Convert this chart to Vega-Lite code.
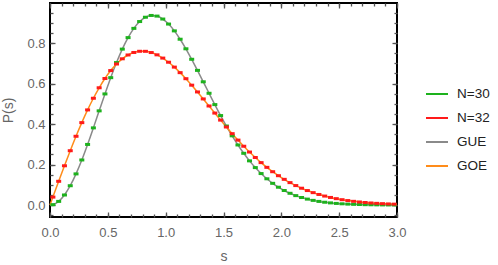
{
  "$schema": "https://vega.github.io/schema/vega-lite/v6.json",
  "width": 347,
  "height": 214,
  "autosize": {"type": "none"},
  "padding": {"left": 50, "top": 3, "right": 101, "bottom": 48},
  "background": "white",
  "config": {
    "view": {"stroke": "#000000", "strokeWidth": 2},
    "axis": {"domain": false, "grid": false, "zindex": 1, "labelFont": "Liberation Sans", "labelFontSize": 13, "labelColor": "#666666", "tickColor": "#555555", "tickWidth": 1.3, "titleFont": "Liberation Sans", "titleFontSize": 14, "titleFontWeight": "normal", "titleColor": "#666666", "labelFlush": false, "labelOverlap": false},
    "legend": {"labelFont": "Liberation Sans", "labelFontSize": 13.5, "labelColor": "#222222"}
  },
  "data": {"values": [
    {"s": 0, "GUE": 0, "GOE": 0},
    {"s": 0.025, "GUE": 0.0020, "GOE": 0.0393, "N30": 0.0020, "N32": 0.0393},
    {"s": 0.075, "GUE": 0.0181, "GOE": 0.1173, "N30": 0.0181, "N32": 0.1173},
    {"s": 0.125, "GUE": 0.0497, "GOE": 0.1940, "N30": 0.0497, "N32": 0.1940},
    {"s": 0.175, "GUE": 0.0955, "GOE": 0.2684, "N30": 0.0955, "N32": 0.2684},
    {"s": 0.225, "GUE": 0.1539, "GOE": 0.3397, "N30": 0.1539, "N32": 0.3397},
    {"s": 0.275, "GUE": 0.2227, "GOE": 0.4071, "N30": 0.2227, "N32": 0.4071},
    {"s": 0.325, "GUE": 0.2994, "GOE": 0.4699, "N30": 0.2994, "N32": 0.4699},
    {"s": 0.375, "GUE": 0.3812, "GOE": 0.5275, "N30": 0.3812, "N32": 0.5275},
    {"s": 0.425, "GUE": 0.4653, "GOE": 0.5793, "N30": 0.4653, "N32": 0.5793},
    {"s": 0.475, "GUE": 0.5489, "GOE": 0.6250, "N30": 0.5489, "N32": 0.6250},
    {"s": 0.525, "GUE": 0.6292, "GOE": 0.6642, "N30": 0.6292, "N32": 0.6642},
    {"s": 0.575, "GUE": 0.7037, "GOE": 0.6967, "N30": 0.7037, "N32": 0.6967},
    {"s": 0.625, "GUE": 0.7702, "GOE": 0.7224, "N30": 0.7702, "N32": 0.7224},
    {"s": 0.675, "GUE": 0.8270, "GOE": 0.7413, "N30": 0.8270, "N32": 0.7413},
    {"s": 0.725, "GUE": 0.8727, "GOE": 0.7537, "N30": 0.8727, "N32": 0.7537},
    {"s": 0.775, "GUE": 0.9064, "GOE": 0.7595, "N30": 0.9064, "N32": 0.7595},
    {"s": 0.825, "GUE": 0.9277, "GOE": 0.7593, "N30": 0.9277, "N32": 0.7593},
    {"s": 0.875, "GUE": 0.9365, "GOE": 0.7533, "N30": 0.9365, "N32": 0.7533},
    {"s": 0.925, "GUE": 0.9333, "GOE": 0.7420, "N30": 0.9333, "N32": 0.7420},
    {"s": 0.975, "GUE": 0.9188, "GOE": 0.7259, "N30": 0.9188, "N32": 0.7259},
    {"s": 1.025, "GUE": 0.8940, "GOE": 0.7055, "N30": 0.8940, "N32": 0.7055},
    {"s": 1.075, "GUE": 0.8603, "GOE": 0.6813, "N30": 0.8603, "N32": 0.6813},
    {"s": 1.125, "GUE": 0.8191, "GOE": 0.6540, "N30": 0.8191, "N32": 0.6540},
    {"s": 1.175, "GUE": 0.7718, "GOE": 0.6241, "N30": 0.7718, "N32": 0.6241},
    {"s": 1.225, "GUE": 0.7200, "GOE": 0.5921, "N30": 0.7200, "N32": 0.5921},
    {"s": 1.275, "GUE": 0.6652, "GOE": 0.5587, "N30": 0.6652, "N32": 0.5587},
    {"s": 1.325, "GUE": 0.6088, "GOE": 0.5242, "N30": 0.6088, "N32": 0.5242},
    {"s": 1.375, "GUE": 0.5521, "GOE": 0.4893, "N30": 0.5521, "N32": 0.4893},
    {"s": 1.425, "GUE": 0.4962, "GOE": 0.4543, "N30": 0.4962, "N32": 0.4543},
    {"s": 1.475, "GUE": 0.4420, "GOE": 0.4196, "N30": 0.4420, "N32": 0.4196},
    {"s": 1.525, "GUE": 0.3903, "GOE": 0.3856, "N30": 0.3903, "N32": 0.3856},
    {"s": 1.575, "GUE": 0.3419, "GOE": 0.3526, "N30": 0.3419, "N32": 0.3526},
    {"s": 1.625, "GUE": 0.2968, "GOE": 0.3208, "N30": 0.2968, "N32": 0.3208},
    {"s": 1.675, "GUE": 0.2556, "GOE": 0.2905, "N30": 0.2556, "N32": 0.2905},
    {"s": 1.725, "GUE": 0.2183, "GOE": 0.2618, "N30": 0.2183, "N32": 0.2618},
    {"s": 1.775, "GUE": 0.1850, "GOE": 0.2348, "N30": 0.1850, "N32": 0.2348},
    {"s": 1.825, "GUE": 0.1555, "GOE": 0.2096, "N30": 0.1555, "N32": 0.2096},
    {"s": 1.875, "GUE": 0.1297, "GOE": 0.1862, "N30": 0.1297, "N32": 0.1862},
    {"s": 1.925, "GUE": 0.1073, "GOE": 0.1647, "N30": 0.1073, "N32": 0.1647},
    {"s": 1.975, "GUE": 0.0881, "GOE": 0.1450, "N30": 0.0881, "N32": 0.1450},
    {"s": 2.025, "GUE": 0.0718, "GOE": 0.1270, "N30": 0.0718, "N32": 0.1270},
    {"s": 2.075, "GUE": 0.0581, "GOE": 0.1108, "N30": 0.0581, "N32": 0.1108},
    {"s": 2.125, "GUE": 0.0466, "GOE": 0.0962, "N30": 0.0466, "N32": 0.0962},
    {"s": 2.175, "GUE": 0.0372, "GOE": 0.0832, "N30": 0.0372, "N32": 0.0832},
    {"s": 2.225, "GUE": 0.0294, "GOE": 0.0716, "N30": 0.0294, "N32": 0.0716},
    {"s": 2.275, "GUE": 0.0231, "GOE": 0.0613, "N30": 0.0231, "N32": 0.0613},
    {"s": 2.325, "GUE": 0.0180, "GOE": 0.0523, "N30": 0.0180, "N32": 0.0523},
    {"s": 2.375, "GUE": 0.0139, "GOE": 0.0444, "N30": 0.0139, "N32": 0.0444},
    {"s": 2.425, "GUE": 0.0107, "GOE": 0.0376, "N30": 0.0107, "N32": 0.0376},
    {"s": 2.475, "GUE": 0.0081, "GOE": 0.0316, "N30": 0.0081, "N32": 0.0316},
    {"s": 2.525, "GUE": 0.0062, "GOE": 0.0265, "N30": 0.0062, "N32": 0.0265},
    {"s": 2.575, "GUE": 0.0046, "GOE": 0.0221, "N30": 0.0046, "N32": 0.0221},
    {"s": 2.625, "GUE": 0.0035, "GOE": 0.0184, "N30": 0.0035, "N32": 0.0184},
    {"s": 2.675, "GUE": 0.0026, "GOE": 0.0152, "N30": 0.0026, "N32": 0.0152},
    {"s": 2.725, "GUE": 0.0019, "GOE": 0.0126, "N30": 0.0019, "N32": 0.0126},
    {"s": 2.775, "GUE": 0.0014, "GOE": 0.0103, "N30": 0.0014, "N32": 0.0103},
    {"s": 2.825, "GUE": 0.0010, "GOE": 0.0084, "N30": 0.0010, "N32": 0.0084},
    {"s": 2.875, "GUE": 0.0007, "GOE": 0.0069, "N30": 0.0007, "N32": 0.0069},
    {"s": 2.925, "GUE": 0.0005, "GOE": 0.0056, "N30": 0.0005, "N32": 0.0056},
    {"s": 2.975, "GUE": 0.0004, "GOE": 0.0045, "N30": 0.0004, "N32": 0.0045},
    {"s": 3.0, "GUE": 0.0003, "GOE": 0.0040}
  ]},
  "layer": [
    {
      "transform": [{"fold": ["GUE", "GOE"], "as": ["series", "P"]}],
      "mark": {"type": "line", "strokeWidth": 1.5, "interpolate": "monotone"},
      "encoding": {
        "x": {"field": "s", "type": "quantitative", "scale": {"domain": [0, 3], "nice": false, "zero": false},
              "axis": {"orient": "bottom", "values": [0, 0.5, 1, 1.5, 2, 2.5, 3], "format": ".1f", "offset": -5, "tickSize": 5, "labelPadding": 9, "title": "s", "titlePadding": 10}},
        "y": {"field": "P", "type": "quantitative", "scale": {"domain": [-0.059, 0.998], "nice": false, "zero": false},
              "axis": {"orient": "left", "values": [0, 0.2, 0.4, 0.6, 0.8], "format": ".1f", "offset": -5, "tickSize": 5, "labelPadding": 5, "title": "P(s)", "titlePadding": 11}},
        "color": {"field": "series", "type": "nominal",
                  "scale": {"domain": ["N=30", "N=32", "GUE", "GOE"], "range": ["#1db21d", "#ff1a1a", "#8a8a8a", "#ff8c1a"]},
                  "legend": {"orient": "none", "legendX": 375, "legendY": 79, "title": null, "symbolType": "stroke", "symbolSize": 484, "symbolStrokeWidth": 2, "labelOffset": 8, "rowPadding": 5, "padding": 0}}
      }
    },
    {
      "mark": {"type": "point", "shape": "M-1,-0.6H1V0.6H-1Z", "filled": true, "size": 25, "color": "#1db21d", "opacity": 1},
      "encoding": {
        "x": {"field": "s", "type": "quantitative", "scale": {"domain": [0, 3], "nice": false, "zero": false},
              "axis": {"orient": "bottom", "values": [0, 0.1, 0.2, 0.3, 0.4, 0.5, 0.6, 0.7, 0.8, 0.9, 1, 1.1, 1.2, 1.3, 1.4, 1.5, 1.6, 1.7, 1.8, 1.9, 2, 2.1, 2.2, 2.3, 2.4, 2.5, 2.6, 2.7, 2.8, 2.9, 3], "labels": false, "offset": -3, "tickSize": 3, "title": null}},
        "y": {"field": "N30", "type": "quantitative", "scale": {"domain": [-0.059, 0.998], "nice": false, "zero": false},
              "axis": {"orient": "left", "values": [-0.05, 0, 0.05, 0.1, 0.15, 0.2, 0.25, 0.3, 0.35, 0.4, 0.45, 0.5, 0.55, 0.6, 0.65, 0.7, 0.75, 0.8, 0.85, 0.9, 0.95], "labels": false, "offset": -3, "tickSize": 3, "title": null}}
      }
    },
    {
      "mark": {"type": "point", "shape": "M-1,-0.6H1V0.6H-1Z", "filled": true, "size": 25, "color": "#ff1a1a", "opacity": 1},
      "encoding": {
        "x": {"field": "s", "type": "quantitative", "scale": {"domain": [0, 3], "nice": false, "zero": false},
              "axis": {"orient": "top", "values": [0, 0.5, 1, 1.5, 2, 2.5, 3], "labels": false, "offset": -5, "tickSize": 5, "title": null}},
        "y": {"field": "N32", "type": "quantitative", "scale": {"domain": [-0.059, 0.998], "nice": false, "zero": false},
              "axis": {"orient": "right", "values": [0, 0.2, 0.4, 0.6, 0.8], "labels": false, "offset": -5, "tickSize": 5, "title": null}}
      }
    },
    {
      "mark": {"type": "point", "opacity": 0, "size": 1},
      "encoding": {
        "x": {"field": "s", "type": "quantitative", "scale": {"domain": [0, 3], "nice": false, "zero": false},
              "axis": {"orient": "top", "values": [0, 0.1, 0.2, 0.3, 0.4, 0.5, 0.6, 0.7, 0.8, 0.9, 1, 1.1, 1.2, 1.3, 1.4, 1.5, 1.6, 1.7, 1.8, 1.9, 2, 2.1, 2.2, 2.3, 2.4, 2.5, 2.6, 2.7, 2.8, 2.9, 3], "labels": false, "offset": -3, "tickSize": 3, "title": null}},
        "y": {"field": "GUE", "type": "quantitative", "scale": {"domain": [-0.059, 0.998], "nice": false, "zero": false},
              "axis": {"orient": "right", "values": [-0.05, 0, 0.05, 0.1, 0.15, 0.2, 0.25, 0.3, 0.35, 0.4, 0.45, 0.5, 0.55, 0.6, 0.65, 0.7, 0.75, 0.8, 0.85, 0.9, 0.95], "labels": false, "offset": -3, "tickSize": 3, "title": null}}
      }
    }
  ],
  "resolve": {"axis": {"x": "independent", "y": "independent"}}
}
